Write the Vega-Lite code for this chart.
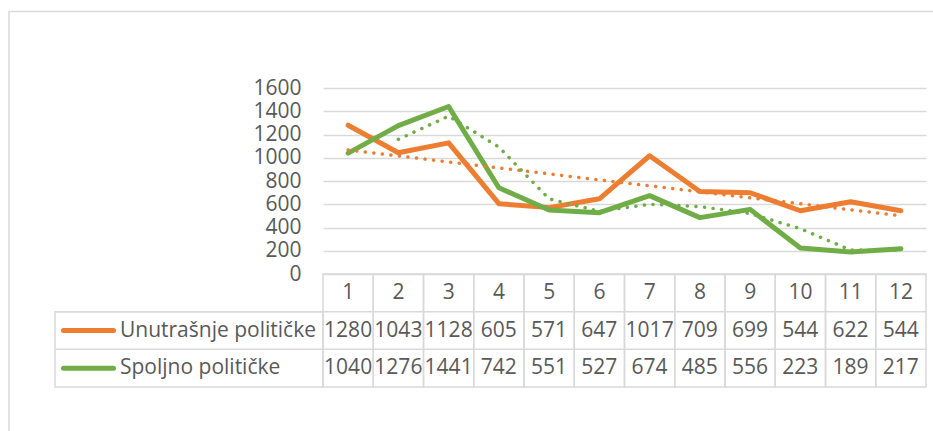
{
  "$schema": "https://vega.github.io/schema/vega-lite/v6.json",
  "width": 603,
  "height": 186,
  "autosize": {"type": "none"},
  "padding": {"left": 323, "top": 88, "right": 7, "bottom": 157},
  "background": "white",
  "config": {
    "view": {"stroke": null},
    "text": {"font": "Open Sans", "fontSize": 21, "color": "#595959", "baseline": "middle"},
    "axis": {"labelFont": "Open Sans", "labelFontSize": 21, "labelColor": "#595959"}
  },
  "datasets": {
    "series": [
      {"series": "Unutrašnje političke", "col": 1, "value": 1280},
      {"series": "Unutrašnje političke", "col": 2, "value": 1043},
      {"series": "Unutrašnje političke", "col": 3, "value": 1128},
      {"series": "Unutrašnje političke", "col": 4, "value": 605},
      {"series": "Unutrašnje političke", "col": 5, "value": 571},
      {"series": "Unutrašnje političke", "col": 6, "value": 647},
      {"series": "Unutrašnje političke", "col": 7, "value": 1017},
      {"series": "Unutrašnje političke", "col": 8, "value": 709},
      {"series": "Unutrašnje političke", "col": 9, "value": 699},
      {"series": "Unutrašnje političke", "col": 10, "value": 544},
      {"series": "Unutrašnje političke", "col": 11, "value": 622},
      {"series": "Unutrašnje političke", "col": 12, "value": 544},
      {"series": "Spoljno političke", "col": 1, "value": 1040},
      {"series": "Spoljno političke", "col": 2, "value": 1276},
      {"series": "Spoljno političke", "col": 3, "value": 1441},
      {"series": "Spoljno političke", "col": 4, "value": 742},
      {"series": "Spoljno političke", "col": 5, "value": 551},
      {"series": "Spoljno političke", "col": 6, "value": 527},
      {"series": "Spoljno političke", "col": 7, "value": 674},
      {"series": "Spoljno političke", "col": 8, "value": 485},
      {"series": "Spoljno političke", "col": 9, "value": 556},
      {"series": "Spoljno političke", "col": 10, "value": 223},
      {"series": "Spoljno političke", "col": 11, "value": 189},
      {"series": "Spoljno političke", "col": 12, "value": 217}
    ],
    "trend": [
      {"series": "Unutrašnje političke", "col": 1, "trend": 1067},
      {"series": "Unutrašnje političke", "col": 12, "trend": 501},
      {"series": "Spoljno političke", "col": 2, "trend": 1158},
      {"series": "Spoljno političke", "col": 3, "trend": 1358},
      {"series": "Spoljno političke", "col": 4, "trend": 1092},
      {"series": "Spoljno političke", "col": 5, "trend": 646},
      {"series": "Spoljno političke", "col": 6, "trend": 539},
      {"series": "Spoljno političke", "col": 7, "trend": 600},
      {"series": "Spoljno političke", "col": 8, "trend": 580},
      {"series": "Spoljno političke", "col": 9, "trend": 520},
      {"series": "Spoljno političke", "col": 10, "trend": 390},
      {"series": "Spoljno političke", "col": 11, "trend": 206},
      {"series": "Spoljno političke", "col": 12, "trend": 203}
    ],
    "blank": [{}]
  },
  "layer": [
    {
      "data": {"name": "series"},
      "layer": [
        {
          "mark": {"type": "line", "strokeWidth": 5, "strokeCap": "round", "strokeJoin": "round"},
          "encoding": {
            "x": {"field": "col", "type": "quantitative", "scale": {"domain": [0.5, 12.5], "nice": false, "zero": false}, "axis": null},
            "y": {"field": "value", "type": "quantitative", "scale": {"domain": [0, 1600], "nice": false},
                  "axis": {"values": [0, 200, 400, 600, 800, 1000, 1200, 1400, 1600], "format": "d", "labelOverlap": false, "labelBound": false, "ticks": false, "domain": false, "labelPadding": 22, "grid": true, "gridColor": "#d9d9d9", "gridWidth": 1.5, "title": null}},
            "color": {"field": "series", "type": "nominal", "scale": {"domain": ["Unutrašnje političke", "Spoljno političke"], "range": ["#ED7D31", "#70AD47"]}, "legend": null}
          }
        },
        {
          "data": {"name": "trend"},
          "mark": {"type": "line", "strokeWidth": 3.5, "strokeCap": "round", "strokeDash": [0.1, 8.5]},
          "encoding": {
            "x": {"field": "col", "type": "quantitative", "scale": {"domain": [0.5, 12.5], "nice": false, "zero": false}, "axis": null},
            "y": {"field": "trend", "type": "quantitative", "scale": {"domain": [0, 1600], "nice": false},
                  "axis": {"values": [0, 200, 400, 600, 800, 1000, 1200, 1400, 1600], "format": "d", "labelOverlap": false, "labelBound": false, "ticks": false, "domain": false, "labelPadding": 22, "grid": true, "gridColor": "#d9d9d9", "gridWidth": 1.5, "title": null}},
            "color": {"field": "series", "type": "nominal", "scale": {"domain": ["Unutrašnje političke", "Spoljno političke"], "range": ["#ED7D31", "#70AD47"]}, "legend": null}
          }
        }
      ]
    },
    {
      "data": {"name": "series"},
      "transform": [{"filter": {"field": "series", "equal": "Spoljno političke"}}],
      "mark": {"type": "rect", "filled": false, "stroke": "#d9d9d9", "strokeWidth": 1.5},
      "encoding": {
        "x": {"field": "col", "type": "ordinal", "scale": {"paddingInner": 0, "paddingOuter": 0}, "axis": null},
        "y": {"datum": 0, "type": "quantitative", "scale": {"domain": [0, -4.938], "nice": false, "zero": false}, "axis": null},
        "y2": {"datum": 3}
      }
    },
    {
      "layer": [
        {
          "data": {"name": "blank"},
          "mark": {"type": "rect", "filled": false, "stroke": "#d9d9d9", "strokeWidth": 1.5},
          "encoding": {
            "x": {"datum": -5.749, "type": "quantitative", "scale": {"domain": [0.5, 12.5], "nice": false, "zero": false}, "axis": null},
            "x2": {"datum": 14},
            "y": {"datum": -6.97, "type": "quantitative", "scale": {"domain": [0, -4.938], "nice": false, "zero": false}, "axis": null},
            "y2": {"datum": 5}
          }
        },
        {
          "data": {"name": "blank"},
          "mark": {"type": "rect", "filled": false, "stroke": "#d9d9d9", "strokeWidth": 1.5},
          "encoding": {
            "x": {"datum": -4.833, "type": "quantitative", "scale": {"domain": [0.5, 12.5], "nice": false, "zero": false}, "axis": null},
            "x2": {"datum": 0.5},
            "y": {"datum": 1, "type": "quantitative", "scale": {"domain": [0, -4.938], "nice": false, "zero": false}, "axis": null},
            "y2": {"datum": 3}
          }
        },
        {
          "data": {"name": "blank"},
          "mark": {"type": "rule", "stroke": "#d9d9d9", "strokeWidth": 1.5},
          "encoding": {
            "x": {"datum": -4.833, "type": "quantitative", "scale": {"domain": [0.5, 12.5], "nice": false, "zero": false}, "axis": null},
            "x2": {"datum": 12.5},
            "y": {"datum": 1, "type": "quantitative", "scale": {"domain": [0, -4.938], "nice": false, "zero": false}, "axis": null}
          }
        },
        {
          "data": {"name": "blank"},
          "mark": {"type": "rule", "stroke": "#d9d9d9", "strokeWidth": 1.5},
          "encoding": {
            "x": {"datum": -4.833, "type": "quantitative", "scale": {"domain": [0.5, 12.5], "nice": false, "zero": false}, "axis": null},
            "x2": {"datum": 12.5},
            "y": {"datum": 2, "type": "quantitative", "scale": {"domain": [0, -4.938], "nice": false, "zero": false}, "axis": null}
          }
        },
        {
          "data": {"name": "series"},
          "transform": [{"filter": {"field": "series", "equal": "Spoljno političke"}}],
          "mark": {"type": "text", "align": "center"},
          "encoding": {
            "x": {"field": "col", "type": "quantitative", "scale": {"domain": [0.5, 12.5], "nice": false, "zero": false}, "axis": null},
            "y": {"datum": 0.5, "type": "quantitative", "scale": {"domain": [0, -4.938], "nice": false, "zero": false}, "axis": null},
            "text": {"field": "col", "type": "quantitative"}
          }
        },
        {
          "data": {"name": "series"},
          "transform": [{"filter": {"field": "series", "equal": "Unutrašnje političke"}}],
          "mark": {"type": "text", "align": "center"},
          "encoding": {
            "x": {"field": "col", "type": "quantitative", "scale": {"domain": [0.5, 12.5], "nice": false, "zero": false}, "axis": null},
            "y": {"datum": 1.5, "type": "quantitative", "scale": {"domain": [0, -4.938], "nice": false, "zero": false}, "axis": null},
            "text": {"field": "value", "type": "quantitative", "format": "d"}
          }
        },
        {
          "data": {"name": "series"},
          "transform": [{"filter": {"field": "series", "equal": "Spoljno političke"}}],
          "mark": {"type": "text", "align": "center"},
          "encoding": {
            "x": {"field": "col", "type": "quantitative", "scale": {"domain": [0.5, 12.5], "nice": false, "zero": false}, "axis": null},
            "y": {"datum": 2.5, "type": "quantitative", "scale": {"domain": [0, -4.938], "nice": false, "zero": false}, "axis": null},
            "text": {"field": "value", "type": "quantitative", "format": "d"}
          }
        },
        {
          "data": {"name": "blank"},
          "mark": {"type": "rule", "stroke": "#ED7D31", "strokeWidth": 5, "strokeCap": "round"},
          "encoding": {
            "x": {"datum": -4.664, "type": "quantitative", "scale": {"domain": [0.5, 12.5], "nice": false, "zero": false}, "axis": null},
            "x2": {"datum": -3.669},
            "y": {"datum": 1.5, "type": "quantitative", "scale": {"domain": [0, -4.938], "nice": false, "zero": false}, "axis": null}
          }
        },
        {
          "data": {"name": "blank"},
          "mark": {"type": "rule", "stroke": "#70AD47", "strokeWidth": 5, "strokeCap": "round"},
          "encoding": {
            "x": {"datum": -4.664, "type": "quantitative", "scale": {"domain": [0.5, 12.5], "nice": false, "zero": false}, "axis": null},
            "x2": {"datum": -3.669},
            "y": {"datum": 2.5, "type": "quantitative", "scale": {"domain": [0, -4.938], "nice": false, "zero": false}, "axis": null}
          }
        },
        {
          "data": {"name": "series"},
          "transform": [{"filter": {"field": "series", "equal": "Unutrašnje političke"}}, {"filter": {"field": "col", "equal": 1}}],
          "mark": {"type": "text", "align": "left"},
          "encoding": {
            "x": {"datum": -3.54, "type": "quantitative", "scale": {"domain": [0.5, 12.5], "nice": false, "zero": false}, "axis": null},
            "y": {"datum": 1.5, "type": "quantitative", "scale": {"domain": [0, -4.938], "nice": false, "zero": false}, "axis": null},
            "text": {"field": "series", "type": "nominal"}
          }
        },
        {
          "data": {"name": "series"},
          "transform": [{"filter": {"field": "series", "equal": "Spoljno političke"}}, {"filter": {"field": "col", "equal": 1}}],
          "mark": {"type": "text", "align": "left"},
          "encoding": {
            "x": {"datum": -3.54, "type": "quantitative", "scale": {"domain": [0.5, 12.5], "nice": false, "zero": false}, "axis": null},
            "y": {"datum": 2.5, "type": "quantitative", "scale": {"domain": [0, -4.938], "nice": false, "zero": false}, "axis": null},
            "text": {"field": "series", "type": "nominal"}
          }
        }
      ]
    }
  ],
  "resolve": {"scale": {"x": "independent", "y": "independent"}, "axis": {"x": "independent", "y": "independent"}}
}
